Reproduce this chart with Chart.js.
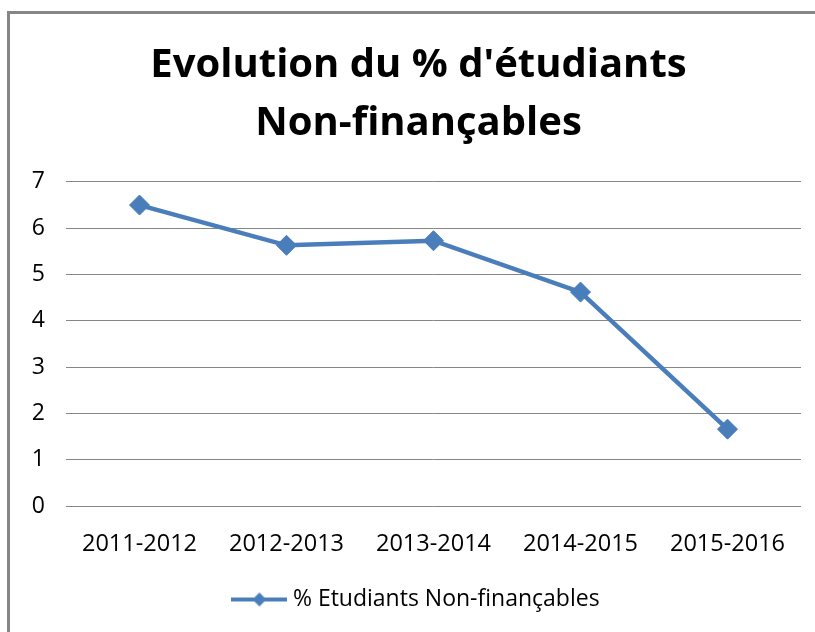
<!DOCTYPE html>
<html>
<head>
<meta charset="utf-8">
<script src="https://cdn.jsdelivr.net/npm/chart.js@4/dist/chart.umd.min.js"></script>
<style>
  html, body { margin: 0; padding: 0; background: #fff; overflow: hidden; }
  canvas { display: block; }
</style>
</head>
<body>
<canvas id="grafik" width="815" height="632"></canvas>
<script>
// données
const annees = ["2011-2012", "2012-2013", "2013-2014", "2014-2015", "2015-2016"];
const pctNonFinancables = [6.5, 5.63, 5.73, 4.62, 1.66];
const titre = ["Evolution du % d'étudiants", "Non-finançables"];
const nomSerie = "% Etudiants Non-finançables";

const bleu = "#4a7ebb";
const police = "'Open Sans', Lato, sans-serif";

// petit symbole de légende : trait + losange
function symboleLegende() {
    const c = document.createElement("canvas");
    c.width = 56; c.height = 20;
    const g = c.getContext("2d");
    g.strokeStyle = bleu;
    g.lineWidth = 4;
    g.beginPath(); g.moveTo(0, 10); g.lineTo(56, 10); g.stroke();
    g.fillStyle = bleu;
    g.beginPath();
    g.moveTo(28, 3); g.lineTo(35, 10); g.lineTo(28, 17); g.lineTo(21, 10);
    g.closePath(); g.fill();
    return c;
}

// cadre gris (bord gauche et haut seulement, le reste est coupé)
const cadre = {
    id: "cadre",
    beforeDraw(chart) {
        const g = chart.ctx;
        g.save();
        g.fillStyle = "#fff";
        g.fillRect(0, 0, chart.width, chart.height);
        g.strokeStyle = "#868686";
        g.lineWidth = 3;
        g.beginPath();
        g.moveTo(8.5, chart.height);
        g.lineTo(8.5, 12.5);
        g.lineTo(chart.width + 5, 12.5);
        g.stroke();
        g.restore();
    },
    afterDraw(chart) {
        // rien à droite du graphique
        const g = chart.ctx;
        g.save();
        g.fillStyle = "#fff";
        g.fillRect(803, 14, chart.width - 803, chart.height - 14);
        g.restore();
    }
};

Chart.defaults.font.family = police;
Chart.defaults.color = "#000";

new Chart(document.getElementById("grafik"), {
    type: "line",
    data: {
        labels: annees,
        datasets: [{
            label: nomSerie,
            data: pctNonFinancables,
            borderColor: bleu,
            backgroundColor: bleu,
            borderWidth: 4.5,
            pointStyle: "rectRot",
            pointRadius: 10,
            pointBorderWidth: 1,
            pointBorderColor: bleu,
            tension: 0
        }]
    },
    options: {
        responsive: false,
        animation: false,
        layout: { padding: { left: 22, right: 0, top: 0, bottom: 11 } },
        scales: {
            x: {
                offset: true,
                grid: { display: false, drawTicks: false },
                border: { display: false },
                ticks: { font: { size: 23.5 }, padding: 24, maxRotation: 0 },
                afterFit: (s) => { s.height = 70; }
            },
            y: {
                min: 0, max: 7,
                grid: { color: "#868686", lineWidth: 1, drawTicks: false },
                border: { display: false },
                ticks: { stepSize: 1, font: { size: 23 }, padding: 21 },
                afterFit: (s) => { s.width = 44; }
            },
            marge: {
                position: "right",
                display: true,
                grid: { display: false, drawTicks: false },
                border: { display: false },
                ticks: { display: false },
                afterFit: (s) => { s.width = 14; }
            }
        },
        plugins: {
            title: {
                display: true,
                text: titre,
                font: { size: 40, weight: "bold", lineHeight: 1.43 },
                padding: { top: 37.5, bottom: 30 }
            },
            legend: {
                position: "bottom",
                labels: {
                    usePointStyle: true,
                    pointStyleWidth: 44,
                    font: { size: 23 },
                    padding: 12,
                    generateLabels: (chart) => [{
                        text: nomSerie,
                        pointStyle: symboleLegende(),
                        fillStyle: bleu,
                        strokeStyle: bleu,
                        lineWidth: 0,
                        datasetIndex: 0
                    }]
                }
            },
            tooltip: { enabled: false }
        }
    },
    plugins: [cadre]
});
</script>
</body>
</html>
